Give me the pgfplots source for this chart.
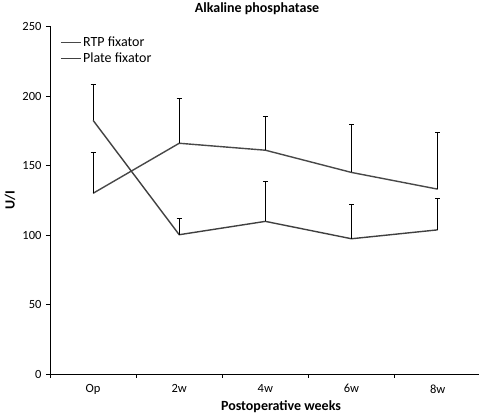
\documentclass[border=0pt]{standalone}
\usepackage{fontspec}
\setmainfont{Carlito}
\usepackage{pgfplots}
\pgfplotsset{compat=1.18}
\usetikzlibrary{calc}
\definecolor{lineA}{RGB}{72,72,72}
\definecolor{lineB}{RGB}{64,64,64}
\begin{document}
\begin{tikzpicture}
\begin{axis}[
  name=ax,
  scale only axis,
  width=429pt, height=347.5pt,
  xmin=-0.5, xmax=4.48,
  ymin=0, ymax=250,
  axis lines=left,
  axis line style={-, black, line width=0.8pt},
  xtick={0,1,2,3,4},
  xticklabels={Op,2w,4w,6w,8w},
  major x tick style={draw=none},
  minor xtick={-0.5,0.5,1.5,2.5,3.5},
  minor x tick style={black, line width=0.8pt},
  ytick={0,50,100,150,200,250},
  y tick style={black, line width=0.8pt},
  tick align=outside,
  major tick length=4pt,
  minor tick length=4pt,
  tick label style={font=\fontsize{12.5}{14}\selectfont},
  /pgf/number format/assume math mode=true,
  xticklabel style={yshift=-3pt},
  yticklabel style={xshift=-1pt},
  title={\bfseries Alkaline phosphatase},
  title style={at={(axis description cs:0.4825,1.0345)}, anchor=center, font=\fontsize{14}{16}\selectfont},
  xlabel={\bfseries Postoperative weeks},
  xlabel style={at={(axis description cs:0.5385,-0.094)}, anchor=center, font=\fontsize{14}{16}\selectfont},
  ylabel={\bfseries U/I},
  ylabel style={at={(axis description cs:-0.0932,0.5)}, anchor=center, font=\fontsize{14}{16}\selectfont},
  legend style={draw=none, fill=none, at={(axis description cs:0.021,0.978)}, anchor=north west,
    font=\fontsize{14}{16}\selectfont, row sep=2pt, inner sep=1pt,
    nodes={inner sep=1.5pt}},
  legend cell align=left,
  legend image code/.code={\draw[#1] (0pt,0pt) -- (20pt,0pt);},
  clip=false,
]
\addplot[lineA, line width=1.4pt,
  error bars/.cd, y dir=plus, y explicit,
  error bar style={black, line width=0.8pt},
  error mark options={rotate=90, mark size=2.5pt, black, line width=0.8pt}]
  table[x=x, y=y, y error=e] {
x y e
0 130 29.5
1 166 32
2 161 24
3 145 34.5
4 133 40.5
};
\addlegendentry{RTP fixator}
\addplot[lineB, line width=1.4pt,
  error bars/.cd, y dir=plus, y explicit,
  error bar style={black, line width=0.8pt},
  error mark options={rotate=90, mark size=2.5pt, black, line width=0.8pt}]
  table[x=x, y=y, y error=e] {
x y e
0 182.5 25.5
1 100.2 11.5
2 109.8 28.8
3 97.3 24.5
4 103.7 22.5
};
\addlegendentry{Plate fixator}
\end{axis}
\pgfresetboundingbox
\path[use as bounding box] ($(ax.south west)+(-50pt,-43pt)$) rectangle ($(ax.north east)+(0pt,26.5pt)$);
\end{tikzpicture}
\end{document}
